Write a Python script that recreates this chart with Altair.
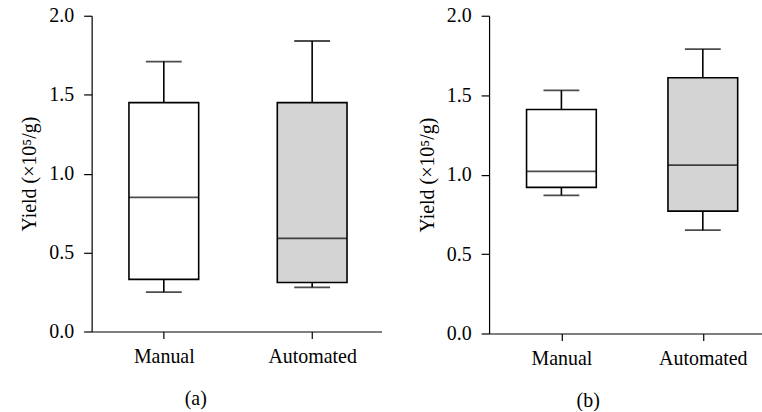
import altair as alt
import pandas as pd

categories = ["Manual", "Automated"]
fills = ["#ffffff", "#d4d4d4"]

# Panel (a)
a_low = [0.25, 0.28]
a_q1 = [0.33, 0.31]
a_med = [0.85, 0.59]
a_q3 = [1.45, 1.45]
a_high = [1.71, 1.84]

# Panel (b)
b_low = [0.87, 0.65]
b_q1 = [0.92, 0.77]
b_med = [1.02, 1.06]
b_q3 = [1.41, 1.61]
b_high = [1.53, 1.79]

y_ticks = [0.0, 0.5, 1.0, 1.5, 2.0]
y_title = "Yield (×10⁵/g)"
FONT = "Liberation Serif"


def panel(low, q1, med, q3, high, caption, width, height, align, padding, title_x):
    df = pd.DataFrame({
        "group": categories, "low": low, "q1": q1, "med": med,
        "q3": q3, "high": high, "fill": fills,
    })
    xenc = alt.X(
        "group:N", sort=categories,
        scale=alt.Scale(type="point", padding=padding, align=align),
        axis=alt.Axis(title=caption, labelAngle=0, tickSize=7, labelPadding=8,
                      titleX=title_x, titleY=67, titleBaseline="middle",
                      titleFontWeight="normal"),
    )
    yscale = alt.Scale(domain=[0, 2], nice=False)
    yaxis = alt.Axis(values=y_ticks, format=".1f", tickSize=8, labelPadding=10,
                     title=y_title, titlePadding=9, titleFontWeight="normal")
    base = alt.Chart(df)
    whisk = base.mark_rule(color="black", strokeWidth=1.6).encode(
        x=xenc, y=alt.Y("low:Q", scale=yscale, axis=yaxis), y2="high:Q")
    box = base.mark_bar(size=70, stroke="black", strokeWidth=1.6).encode(
        x=xenc, y=alt.Y("q1:Q", scale=yscale), y2="q3:Q",
        fill=alt.Fill("fill:N", scale=None))
    median = base.mark_tick(orient="horizontal", size=70, thickness=1.8, color="black").encode(
        x=xenc, y=alt.Y("med:Q", scale=yscale))
    cap_lo = base.mark_tick(orient="horizontal", size=36, thickness=1.8, color="black").encode(
        x=xenc, y=alt.Y("low:Q", scale=yscale))
    cap_hi = base.mark_tick(orient="horizontal", size=36, thickness=1.8, color="black").encode(
        x=xenc, y=alt.Y("high:Q", scale=yscale))
    return alt.layer(whisk, box, median, cap_lo, cap_hi).properties(width=width, height=height)


pa = panel(a_low, a_q1, a_med, a_q3, a_high, "(a)", 291, 317, 0.51, 0.477, 104)
pb = panel(b_low, b_q1, b_med, b_q3, b_high, "(b)", 274, 319, 0.55, 0.465, 99)

chart = alt.hconcat(pa, pb, spacing=36).properties(
    padding={"left": 20, "top": 5, "right": 0, "bottom": 0}
).configure_view(stroke=None).configure_axis(
    grid=False, domainColor="black", tickColor="black", domainWidth=1.2, tickWidth=1.2,
    labelFont=FONT, titleFont=FONT, labelFontSize=20, titleFontSize=20,
    labelColor="black", titleColor="black",
)

chart.save("out.html", embed_options={"renderer": "svg", "actions": False})
